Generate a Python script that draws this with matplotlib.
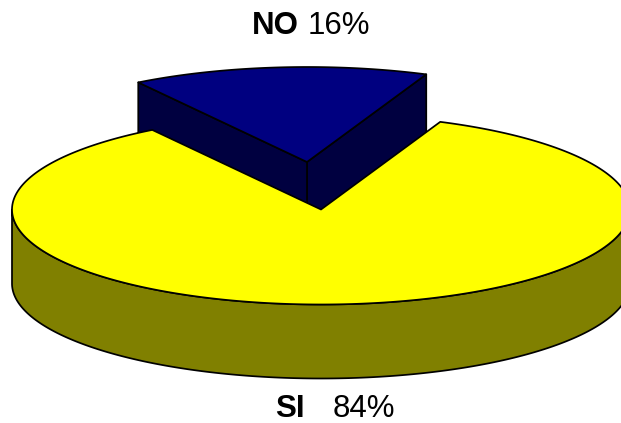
import numpy as np
import matplotlib
matplotlib.use("Agg")
import matplotlib.pyplot as plt
from matplotlib.patches import Polygon

categories = ["NO", "SI"]
shares = [15.5, 84.5]
value_labels = ["16%", "84%"]

# layout (pixels)
W, H = 621, 423
RX, RY, DEPTH = 309, 95, 74
CENTER = (321, 209.5)
OFFSET_NO = (-14, -47.5)
START = 67.3
TOP = {"NO": "#000080", "SI": "#FFFF00"}
SIDE = {"NO": "#000040", "SI": "#808000"}
LW = 1.25
FS = 22.5

plt.rcParams["font.family"] = ["Liberation Sans", "DejaVu Sans"]
fig = plt.figure(figsize=(W / 100, H / 100), dpi=100)
ax = fig.add_axes([0, 0, 1, 1])
ax.set_xlim(0, W)
ax.set_ylim(H, 0)
ax.axis("off")


def rim(cx, cy, a0, a1, dy=0):
    t = np.radians(np.linspace(a0, a1, 300))
    return np.column_stack([cx + RX * np.cos(t), cy + dy - RY * np.sin(t)])


sweep = [s / sum(shares) * 360 for s in shares]
no_a0, no_a1 = START, START + sweep[0]
si_a0, si_a1 = no_a1, no_a1 + sweep[1]

# NO wedge (exploded, behind)
cx, cy = CENTER[0] + OFFSET_NO[0], CENTER[1] + OFFSET_NO[1]
no_rim = rim(cx, cy, no_a0, no_a1)
apex = np.array([cx, cy])
for corner in (no_rim[0], no_rim[-1]):
    wall = [apex, corner, corner + [0, DEPTH], apex + [0, DEPTH]]
    ax.add_patch(Polygon(wall, closed=True, fc=SIDE["NO"], ec="black", lw=LW, joinstyle="round"))
ax.add_patch(Polygon(np.vstack([apex, no_rim]), closed=True, fc=TOP["NO"], ec="black", lw=LW, joinstyle="round"))

# SI wedge
cx, cy = CENTER
front_top = rim(cx, cy, 180, 360)
front_bot = rim(cx, cy, 360, 180, dy=DEPTH)
ax.add_patch(Polygon(np.vstack([front_top, front_bot]), closed=True, fc=SIDE["SI"], ec="black", lw=LW, joinstyle="round"))
si_rim = rim(cx, cy, si_a0, si_a1)
ax.add_patch(Polygon(np.vstack([[cx, cy], si_rim]), closed=True, fc=TOP["SI"], ec="black", lw=LW, joinstyle="round"))

# labels
ax.text(252, 33.5, categories[0], fontsize=FS, fontweight="bold", ha="left", va="baseline")
ax.text(308, 33.5, value_labels[0], fontsize=FS, ha="left", va="baseline")
ax.text(275.5, 417, categories[1], fontsize=FS, fontweight="bold", ha="left", va="baseline")
ax.text(333, 417, value_labels[1], fontsize=FS, ha="left", va="baseline")

fig.savefig("out.png", dpi=100, facecolor="white")
